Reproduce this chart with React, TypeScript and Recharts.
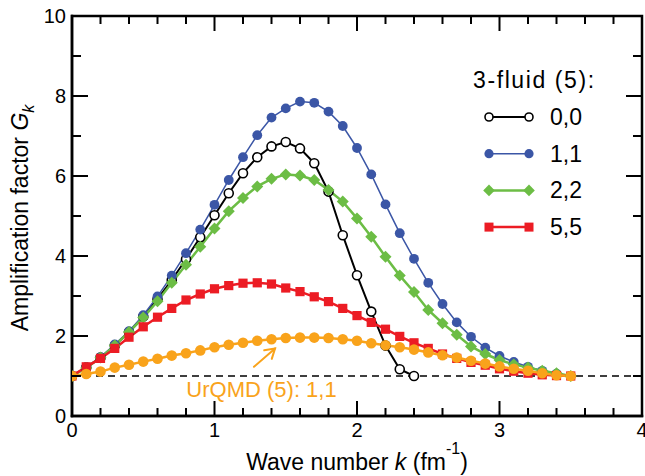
import React from "react";
import {
  ComposedChart,
  Line,
  XAxis,
  YAxis,
  ReferenceLine,
  ReferenceDot,
  ReferenceArea,
  Legend,
  Label,
} from "recharts";

// wave number grid (fm^-1)
const kValues = [
  0, 0.1, 0.2, 0.3, 0.4, 0.5, 0.6, 0.7, 0.8, 0.9, 1.0, 1.1, 1.2, 1.3, 1.4, 1.5, 1.6, 1.7,
  1.8, 1.9, 2.0, 2.1, 2.2, 2.3, 2.4, 2.5, 2.6, 2.7, 2.8, 2.9, 3.0, 3.1, 3.2, 3.3, 3.4, 3.5,
];

// 3-fluid (5), 0,0 — stops at k = 2.4
const g00 = [
  1.0, 1.21, 1.46, 1.76, 2.1, 2.49, 2.92, 3.4, 3.92, 4.47, 5.02, 5.57, 6.07, 6.47, 6.74,
  6.85, 6.69, 6.32, 5.61, 4.52, 3.52, 2.61, 1.76, 1.17, 1.0,
];
// 3-fluid (5), 1,1
const g11 = [
  1.0, 1.22, 1.47, 1.79, 2.12, 2.52, 2.99, 3.51, 4.07, 4.66, 5.28, 5.9, 6.47, 7.02, 7.46,
  7.69, 7.86, 7.83, 7.61, 7.25, 6.7, 6.04, 5.29, 4.57, 3.93, 3.33, 2.8, 2.34, 1.98, 1.71,
  1.5, 1.35, 1.23, 1.13, 1.06, 1.0,
];
// 3-fluid (5), 2,2
const g22 = [
  1.0, 1.2, 1.46, 1.76, 2.1, 2.46, 2.87, 3.33, 3.78, 4.23, 4.69, 5.12, 5.45, 5.74, 5.93,
  6.04, 6.01, 5.9, 5.65, 5.36, 4.94, 4.48, 3.98, 3.51, 3.1, 2.65, 2.32, 2.03, 1.74, 1.55,
  1.4, 1.29, 1.21, 1.13, 1.07, 1.0,
];
// 3-fluid (5), 5,5
const g55 = [
  1.0, 1.23, 1.44, 1.69, 1.97, 2.23, 2.47, 2.69, 2.9, 3.05, 3.18, 3.26, 3.32, 3.33, 3.3,
  3.2, 3.11, 2.98, 2.86, 2.69, 2.51, 2.34, 2.17, 1.99, 1.83, 1.69, 1.55, 1.44, 1.34, 1.27,
  1.18, 1.12, 1.07, 1.03, 1.01, 1.0,
];
// UrQMD (5), 1,1
const urqmd = [
  1.0, 1.05, 1.11, 1.21, 1.28, 1.36, 1.43, 1.51, 1.57, 1.64, 1.72, 1.78, 1.83, 1.88, 1.92,
  1.95, 1.96, 1.96, 1.95, 1.92, 1.88, 1.82, 1.77, 1.72, 1.66, 1.59, 1.52, 1.46, 1.38, 1.31,
  1.24, 1.18, 1.13, 1.07, 1.02, 1.0,
];

// labelled ticks and the minor ticks between them
const xTicks = [0, 1, 2, 3, 4];
const xMinorTicks = [0.2, 0.4, 0.6, 0.8, 1.2, 1.4, 1.6, 1.8, 2.2, 2.4, 2.6, 2.8, 3.2, 3.4, 3.6, 3.8];
const yTicks = [0, 2, 4, 6, 8, 10];
const yMinorTicks = [1, 3, 5, 7, 9];

const BLACK = "#000000";
const BLUE = "#3b56a6";
const GREEN = "#6cbd45";
const RED = "#ec1c24";
const ORANGE = "#f9a31b";
const FONT = '"Liberation Sans", Arial, Helvetica, sans-serif';

const W = 645;
const H = 476;
const MARGIN = { top: 16, right: 3, bottom: 0, left: 10 };
const Y_AXIS_W = 62;
const X_AXIS_H = 60;
const X_MAX = 4;
const Y_MAX = 10;
// plot box that results from the margins and axis sizes above
const PLOT = {
  left: MARGIN.left + Y_AXIS_W,
  top: MARGIN.top,
  right: W - MARGIN.right,
  bottom: H - MARGIN.bottom - X_AXIS_H,
};
const MAJOR_PX = 15;
const MINOR_PX = 8;

const data = kValues.map((k, i) => ({
  k,
  g00: g00[i],
  g11: g11[i],
  g22: g22[i],
  g55: g55[i],
  urqmd: urqmd[i],
}));

function BottomTick({ x, y, payload }: any) {
  return (
    <text x={x} y={y + 21} textAnchor="middle" fontSize={20} fontFamily={FONT} fill={BLACK}>
      {payload.value}
    </text>
  );
}

function LeftTick({ x, y, payload }: any) {
  return (
    <text x={x - 6} y={y + 7} textAnchor="end" fontSize={20} fontFamily={FONT} fill={BLACK}>
      {payload.value}
    </text>
  );
}

function XTitle({ viewBox }: any) {
  const cx = viewBox.x + viewBox.width / 2;
  return (
    <text x={cx} y={viewBox.y + 54} textAnchor="middle" fontSize={23} fontFamily={FONT} fill={BLACK}>
      Wave number <tspan fontStyle="italic">k</tspan> (fm
      <tspan fontSize={16} dy={-16}>-1</tspan>
      <tspan dy={16}>)</tspan>
    </text>
  );
}

function YTitle({ viewBox }: any) {
  const bx = viewBox.x + 18;
  const cy = viewBox.y + viewBox.height / 2 + 2;
  return (
    <text
      transform={`translate(${bx}, ${cy}) rotate(-90)`}
      textAnchor="middle"
      fontSize={23}
      fontFamily={FONT}
      fill={BLACK}
    >
      Amplification factor <tspan fontStyle="italic">G</tspan>
      <tspan fontStyle="italic" fontSize={16} dy={6}>k</tspan>
    </text>
  );
}

function OpenCircle({ cx, cy, r = 4.5 }: any) {
  if (cx == null || cy == null) return null;
  return <circle cx={cx} cy={cy} r={r} fill="#fff" stroke={BLACK} strokeWidth={1.6} />;
}

function FilledCircle({ cx, cy, r, color }: any) {
  if (cx == null || cy == null) return null;
  return <circle cx={cx} cy={cy} r={r} fill={color} />;
}

function Diamond({ cx, cy, s = 6 }: any) {
  if (cx == null || cy == null) return null;
  return (
    <polygon
      points={`${cx},${cy - s} ${cx + s},${cy} ${cx},${cy + s} ${cx - s},${cy}`}
      fill={GREEN}
    />
  );
}

function Square({ cx, cy, s = 4.6 }: any) {
  if (cx == null || cy == null) return null;
  return <rect x={cx - s} y={cy - s} width={s * 2} height={s * 2} fill={RED} />;
}

function Arrow({ x1, y1, x2, y2 }: any) {
  if ([x1, y1, x2, y2].some((v) => v == null)) return null;
  const a = Math.atan2(y2 - y1, x2 - x1);
  const L = 11;
  const w1x = x2 - L * Math.cos(a - 0.55);
  const w1y = y2 - L * Math.sin(a - 0.55);
  const w2x = x2 - L * Math.cos(a + 0.55);
  const w2y = y2 - L * Math.sin(a + 0.55);
  return (
    <g stroke={ORANGE} strokeWidth={2} fill="none" strokeLinecap="round">
      <line x1={x1} y1={y1} x2={x2} y2={y2} />
      <polyline points={`${w1x},${w1y} ${x2},${y2} ${w2x},${w2y}`} />
    </g>
  );
}

// inward tick marks on all four sides of the frame
function FrameTicks() {
  const sx = (v: number) => PLOT.left + ((PLOT.right - PLOT.left) * v) / X_MAX;
  const sy = (v: number) => PLOT.bottom - ((PLOT.bottom - PLOT.top) * v) / Y_MAX;
  const xs = [
    ...xTicks.map((v) => [v, MAJOR_PX] as const),
    ...xMinorTicks.map((v) => [v, MINOR_PX] as const),
  ];
  const ys = [
    ...yTicks.map((v) => [v, MAJOR_PX + 1] as const),
    ...yMinorTicks.map((v) => [v, MINOR_PX + 1] as const),
  ];
  return (
    <svg
      width={W}
      height={H}
      style={{ position: "absolute", left: 0, top: 0, pointerEvents: "none" }}
    >
      <g stroke={BLACK} strokeWidth={2}>
        {xs.map(([v, len]) => (
          <g key={`x${v}`}>
            <line x1={sx(v)} y1={PLOT.bottom} x2={sx(v)} y2={PLOT.bottom - len} />
            <line x1={sx(v)} y1={PLOT.top} x2={sx(v)} y2={PLOT.top + len} />
          </g>
        ))}
        {ys.map(([v, len]) => (
          <g key={`y${v}`}>
            <line x1={PLOT.left} y1={sy(v)} x2={PLOT.left + len} y2={sy(v)} />
            <line x1={PLOT.right} y1={sy(v)} x2={PLOT.right - len} y2={sy(v)} />
          </g>
        ))}
      </g>
    </svg>
  );
}

const legendRows = [
  { name: "0,0", color: BLACK, width: 2, marker: "open" },
  { name: "1,1", color: BLUE, width: 1.5, marker: "circle" },
  { name: "2,2", color: GREEN, width: 2.5, marker: "diamond" },
  { name: "5,5", color: RED, width: 2.5, marker: "square" },
];

function LegendMarker({ kind, cx, cy, color }: any) {
  if (kind === "open") return <OpenCircle cx={cx} cy={cy} r={4} />;
  if (kind === "circle") return <FilledCircle cx={cx} cy={cy} r={4.6} color={color} />;
  if (kind === "diamond") return <Diamond cx={cx} cy={cy} s={5.8} />;
  return <Square cx={cx} cy={cy} s={4.5} />;
}

function LegendBox() {
  return (
    <svg width={170} height={185} style={{ display: "block" }}>
      <text x={8} y={26} fontSize={23} letterSpacing={1.6} fontFamily={FONT} fill={BLACK}>
        3-fluid (5):
      </text>
      {legendRows.map((r, i) => {
        const cy = 55 + i * 36.7;
        return (
          <g key={r.name}>
            <line x1={24} y1={cy} x2={64} y2={cy} stroke={r.color} strokeWidth={r.width} />
            <LegendMarker kind={r.marker} cx={24} cy={cy} color={r.color} />
            <LegendMarker kind={r.marker} cx={64} cy={cy} color={r.color} />
            <text x={85} y={cy + 8} fontSize={23} fontFamily={FONT} fill={BLACK}>
              {r.name}
            </text>
          </g>
        );
      })}
    </svg>
  );
}

const axisLine = { stroke: BLACK, strokeWidth: 2.5, strokeLinecap: "square" as const };

export default function App() {
  return (
    <div
      style={{
        position: "absolute",
        left: 0,
        top: 0,
        width: W,
        height: H,
        background: "#fff",
        fontFamily: FONT,
      }}
    >
      <ComposedChart width={W} height={H} data={data} margin={MARGIN}>
        <XAxis
          dataKey="k"
          type="number"
          domain={[0, X_MAX]}
          allowDataOverflow
          ticks={xTicks}
          interval={0}
          tick={BottomTick}
          tickLine={false}
          tickSize={0}
          tickMargin={0}
          axisLine={axisLine}
          height={X_AXIS_H}
        >
          <Label content={<XTitle />} />
        </XAxis>
        <YAxis
          type="number"
          domain={[0, Y_MAX]}
          allowDataOverflow
          ticks={yTicks}
          interval={0}
          tick={LeftTick}
          tickLine={false}
          tickSize={0}
          tickMargin={0}
          axisLine={axisLine}
          width={Y_AXIS_W}
        >
          <Label content={<YTitle />} />
        </YAxis>
        <Legend
          layout="vertical"
          align="center"
          verticalAlign="middle"
          content={() => <LegendBox />}
          wrapperStyle={{ left: 465, top: 62, width: 170, height: 185 }}
        />
        {/* frame: top and right edges */}
        <ReferenceArea
          x1={0}
          x2={X_MAX}
          y1={0}
          y2={Y_MAX}
          fill="none"
          fillOpacity={0}
          stroke={BLACK}
          strokeWidth={2.5}
        />
        <ReferenceLine y={1} stroke={BLACK} strokeWidth={1.6} strokeDasharray="7 5" />
        <Line
          dataKey="g00"
          name="0,0"
          stroke={BLACK}
          strokeWidth={2}
          dot={(p: any) => <OpenCircle key={`a${p.index}`} cx={p.cx} cy={p.cy} />}
          activeDot={false}
          isAnimationActive={false}
        />
        <Line
          dataKey="g11"
          name="1,1"
          stroke={BLUE}
          strokeWidth={1.5}
          dot={(p: any) => <FilledCircle key={`b${p.index}`} cx={p.cx} cy={p.cy} r={4.9} color={BLUE} />}
          activeDot={false}
          isAnimationActive={false}
        />
        <Line
          dataKey="g22"
          name="2,2"
          stroke={GREEN}
          strokeWidth={2.5}
          dot={(p: any) => <Diamond key={`c${p.index}`} cx={p.cx} cy={p.cy} />}
          activeDot={false}
          isAnimationActive={false}
        />
        <Line
          dataKey="g55"
          name="5,5"
          stroke={RED}
          strokeWidth={2.5}
          dot={(p: any) => <Square key={`d${p.index}`} cx={p.cx} cy={p.cy} />}
          activeDot={false}
          isAnimationActive={false}
        />
        <Line
          dataKey="urqmd"
          name="UrQMD (5): 1,1"
          legendType="none"
          stroke={ORANGE}
          strokeWidth={2.5}
          dot={(p: any) => <FilledCircle key={`e${p.index}`} cx={p.cx} cy={p.cy} r={5.3} color={ORANGE} />}
          activeDot={false}
          isAnimationActive={false}
        />
        <ReferenceLine
          segment={[
            { x: 1.277, y: 1.23 },
            { x: 1.425, y: 1.69 },
          ]}
          shape={(p: any) => <Arrow {...p} />}
        />
        <ReferenceDot
          x={1.33}
          y={0.675}
          r={0}
          fill="none"
          stroke="none"
          label={{
            value: "UrQMD (5): 1,1",
            position: "center",
            fill: ORANGE,
            fontSize: 22,
            fontFamily: FONT,
          }}
        />
      </ComposedChart>
      <FrameTicks />
    </div>
  );
}
